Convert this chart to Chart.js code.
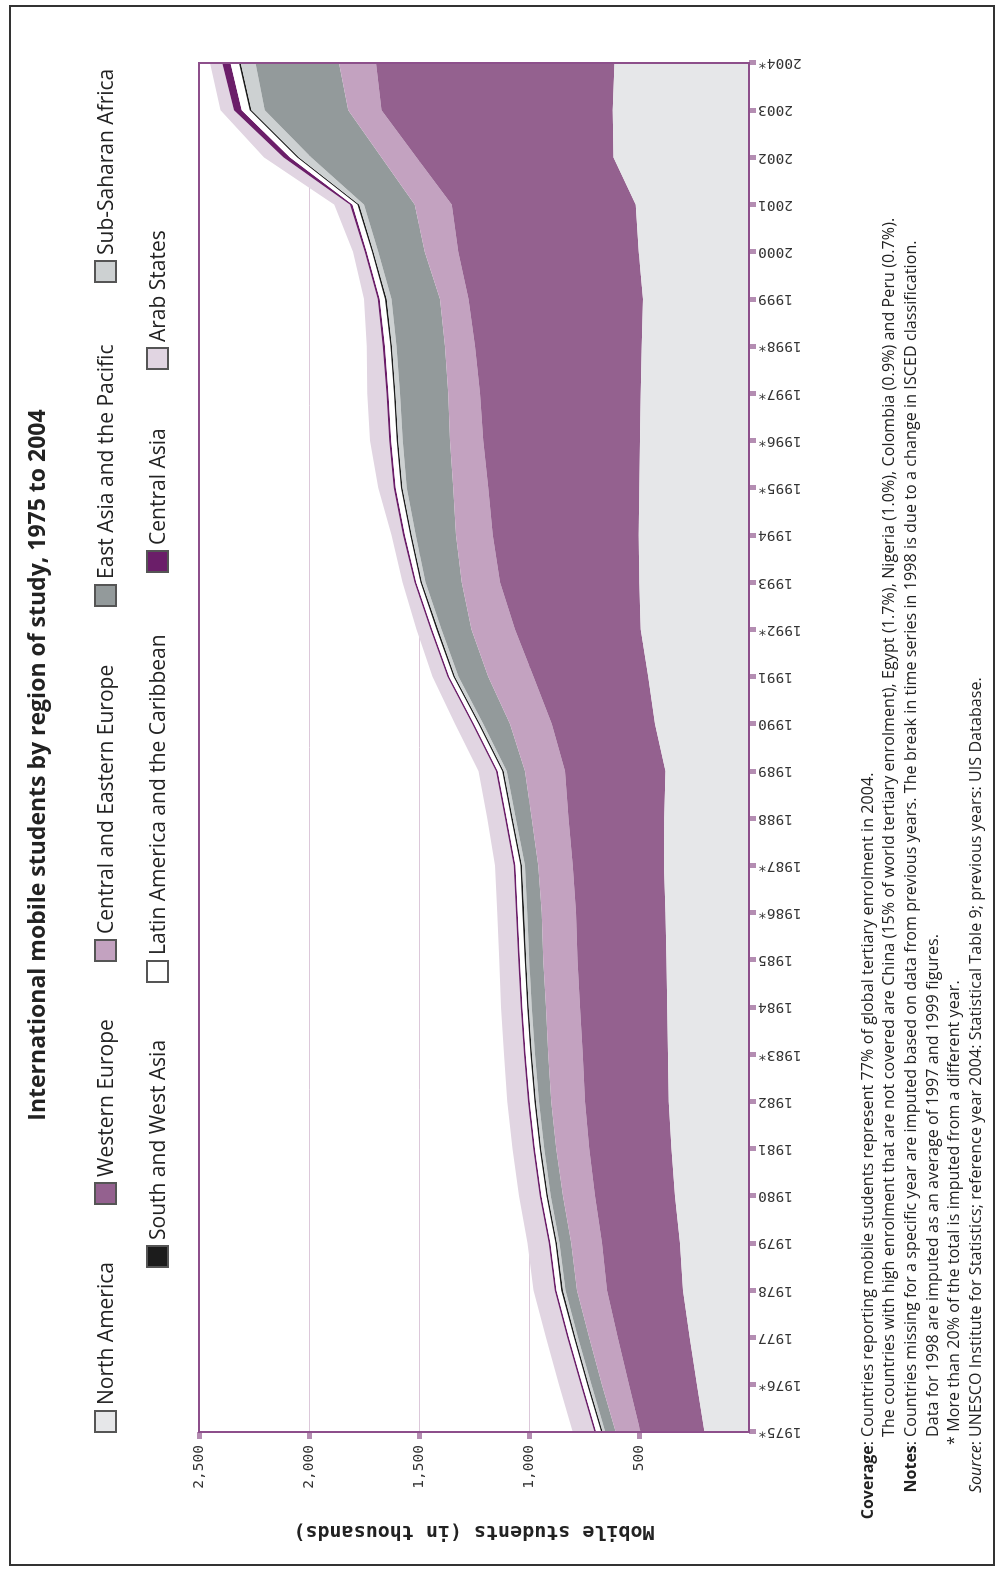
<!DOCTYPE html>
<html>
<head>
<meta charset="utf-8">
<script src="https://cdn.jsdelivr.net/npm/chart.js@4.4.1/dist/chart.umd.min.js"></script>
<style>
  html, body { margin: 0; padding: 0; background: #fff; }
  body { width: 1002px; height: 1571px; overflow: hidden; position: relative; }
  /* figure is laid out landscape, then turned a quarter left */
  #figure { position: absolute; left: 0; top: 0; width: 1571px; height: 1002px;
    transform-origin: 0 0; transform: translate(0px, 1571px) rotate(-90deg); background: #fff; }
  #frame { position: absolute; left: 5px; top: 9px; width: 1561px; height: 986px;
    border: 2px solid #333; box-sizing: border-box; }
  #chart { position: absolute; left: 0; top: 0; }
  #title { position: absolute; left: 306px; top: 21px; width: 1000px; text-align: center;
    font: bold 23px "Open Sans", sans-serif; color: #222; line-height: 30px; }
  .lg { position: absolute; height: 24px; white-space: nowrap; }
  .lg .box { position: absolute; left: 0; top: 0; width: 23px; height: 23px;
    border: 2px solid #555; box-sizing: border-box; }
  .lg .txt { position: absolute; left: 28px; top: -3px; font: 21px "Open Sans", sans-serif;
    color: #222; line-height: 28px; }
  .note { position: absolute; white-space: nowrap; font: 16px "Open Sans", sans-serif;
    letter-spacing: 0.1px; color: #222; line-height: 20px; }
  .lab { position: absolute; width: 130px; left: 0; text-align: right; white-space: nowrap;
    font: 16px "Open Sans", sans-serif; color: #222; line-height: 20px; }
</style>
</head>
<body>
<div id="figure">
  <canvas id="chart" width="1571" height="1002"></canvas>
  <div id="frame"></div>
  <div id="title">International mobile students by region of study, 1975 to 2004</div>
  <div id="legend"></div>
  <div id="notes">
    <div class="lab" style="top:857px"><b>Coverage</b>:</div>
    <div class="note" style="left:134px; top:857px">Countries reporting mobile students represent 77% of global tertiary enrolment in 2004.</div>
    <div class="note" style="left:134px; top:878px">The countries with high enrolment that are not covered are China (15% of world tertiary enrolment), Egypt (1.7%), Nigeria (1.0%), Colombia (0.9%) and Peru (0.7%).</div>
    <div class="lab" style="top:900px"><b>Notes</b>:</div>
    <div class="note" style="left:134px; top:900px">Countries missing for a specific year are imputed based on data from previous years. The break in time series in 1998 is due to a change in ISCED classification.</div>
    <div class="note" style="left:134px; top:922px">Data for 1998 are imputed as an average of 1997 and 1999 figures.</div>
    <div class="note" style="left:126px; top:943px">* More than 20% of the total is imputed from a different year.</div>
    <div class="lab" style="top:965px"><i>Source</i>:</div>
    <div class="note" style="left:134px; top:965px">UNESCO Institute for Statistics; reference year 2004: Statistical Table 9; previous years: UIS Database.</div>
  </div>
</div>

<script>
// years on the axis, * = more than 20% imputed
const years = ['1975*', '1976*', '1977', '1978', '1979', '1980', '1981', '1982', '1983*', '1984',
  '1985', '1986*', '1987*', '1988', '1989', '1990', '1991', '1992*', '1993', '1994',
  '1995*', '1996*', '1997*', '1998*', '1999', '2000', '2001', '2002', '2003', '2004*'];

// mobile students (thousands) by region of study
const northAmerica = [202, 236, 269, 300, 314, 336, 352, 365, 368, 372, 375, 379, 386, 385, 379,
  427, 458, 492, 499, 501, 499, 495, 492, 488, 482, 501, 515, 616, 619, 611];
const westernEurope = [291, 310, 328, 345, 354, 364, 374, 381, 388, 396, 405, 407, 415, 436, 457,
  470, 522, 572, 633, 664, 686, 713, 731, 757, 793, 821, 836, 895, 1052, 1085];
const centralEasternEurope = [113, 122, 129, 137, 140, 146, 150, 153, 156, 155, 155, 156, 157, 167, 182,
  189, 205, 197, 174, 167, 159, 151, 144, 137, 130, 152, 168, 160, 151, 168];
const eastAsiaPacific = [47, 48, 51, 52, 53, 55, 55, 56, 61, 65, 64, 66, 60, 72, 83,
  122, 136, 137, 164, 183, 212, 215, 219, 220, 220, 211, 231, 319, 379, 379];
const subSaharanAfrica = [12, 12, 12, 12, 12, 13, 13, 13, 13, 13, 13, 14, 14, 14, 14,
  15, 15, 15, 16, 18, 19, 20, 21, 21, 22, 22, 22, 55, 60, 67];
const southWestAsia = [7, 7, 7, 7, 7, 7, 7, 7, 7, 7, 7, 7, 7, 7, 7,
  7, 7, 7, 7, 7, 7, 7, 7, 7, 7, 7, 7, 8, 8, 8];
const latinAmerica = [22, 22, 22, 22, 22, 22, 22, 22, 22, 22, 22, 22, 22, 20, 20,
  20, 20, 20, 20, 24, 24, 25, 25, 25, 24, 23, 23, 33, 37, 39];
const centralAsia = [8, 8, 8, 8, 8, 8, 8, 8, 8, 8, 8, 8, 8, 8, 8,
  8, 8, 8, 8, 9, 9, 9, 9, 10, 10, 10, 12, 30, 35, 37];
const arabStates = [99, 99, 97, 97, 97, 94, 94, 94, 91, 89, 86, 85, 86, 81, 80,
  78, 68, 63, 54, 52, 70, 88, 87, 73, 62, 53, 71, 89, 61, 56];

const valueTicks = [500, 1000, 1500, 2000, 2500];

const regionNames = ['North America', 'Western Europe', 'Central and Eastern Europe',
  'East Asia and the Pacific', 'Sub-Saharan Africa', 'South and West Asia',
  'Latin America and the Caribbean', 'Central Asia', 'Arab States'];
const regionValues = [northAmerica, westernEurope, centralEasternEurope, eastAsiaPacific,
  subSaharanAfrica, southWestAsia, latinAmerica, centralAsia, arabStates];
const regionColors = ['#e6e7e9', '#94618f', '#c3a2c0', '#939a9b', '#cdd1d2',
  '#1c1c1c', '#ffffff', '#6b1e69', '#e1d5e2'];

// legend boxes, landscape coordinates
const legendSlots = [[138, 94], [366, 94], [609, 94], [964, 94], [1288, 94],
  [303, 146], [588, 146], [998, 146], [1201, 146]];

const legendEl = document.getElementById('legend');
regionNames.forEach((name, i) => {
  const item = document.createElement('div');
  item.className = 'lg';
  item.style.left = legendSlots[i][0] + 'px';
  item.style.top = legendSlots[i][1] + 'px';
  item.innerHTML = `<span class="box" style="background:${regionColors[i]}"></span><span class="txt">${name}</span>`;
  legendEl.appendChild(item);
});

const axisPurple = '#8d4f8b';
const tickPurple = '#b48db2';
const gridPurple = '#dcc8da';
const monoFont = '"DejaVu Sans Mono", "Liberation Mono", monospace';

// purple box round the plot
const plotBorder = {
  id: 'plotBorder',
  afterDatasetsDraw(chart) {
    const { ctx, chartArea: a } = chart;
    ctx.save();
    ctx.strokeStyle = axisPurple;
    ctx.lineWidth = 2;
    ctx.strokeRect(a.left, a.top, a.right - a.left, a.bottom - a.top);
    ctx.restore();
  }
};

new Chart(document.getElementById('chart'), {
  type: 'line',
  data: {
    labels: years,
    datasets: regionNames.map((name, i) => ({
      label: name,
      data: regionValues[i],
      backgroundColor: regionColors[i],
      borderWidth: 0,
      pointRadius: 0,
      tension: 0,
      fill: i === 0 ? 'origin' : '-1'
    }))
  },
  options: {
    responsive: false,
    animation: false,
    devicePixelRatio: 1,
    layout: { padding: { top: 199, right: 63, bottom: 193, left: 0 } },
    plugins: { legend: { display: false }, tooltip: { enabled: false } },
    scales: {
      x: {
        offset: false,
        border: { display: false },
        grid: { drawOnChartArea: false, tickLength: 7, tickWidth: 5, tickColor: tickPurple },
        ticks: {
          autoSkip: false, minRotation: 90, maxRotation: 90, padding: 2,
          color: '#333', font: { family: monoFont, size: 14.5 }
        },
        afterFit: s => { s.height = 60; }
      },
      y: {
        stacked: true,
        min: 0,
        max: 2500,
        border: { display: false },
        grid: {
          color: gridPurple, lineWidth: 1, tickLength: 7, tickWidth: 5,
          tickColor: c => valueTicks.includes(c.tick && c.tick.value) ? tickPurple : 'rgba(0,0,0,0)'
        },
        ticks: {
          stepSize: 500, padding: 6, color: '#333',
          font: { family: monoFont, size: 14.5 },
          callback: v => valueTicks.includes(v) ? v.toLocaleString('en-US') : ''
        },
        title: {
          display: true, text: 'Mobile students (in thousands)', color: '#222',
          font: { family: monoFont, size: 20, weight: 'bold' }, padding: { top: 28, bottom: 0 }
        },
        afterFit: s => { s.width = 139; }
      }
    }
  },
  plugins: [plotBorder]
});
</script>
</body>
</html>
